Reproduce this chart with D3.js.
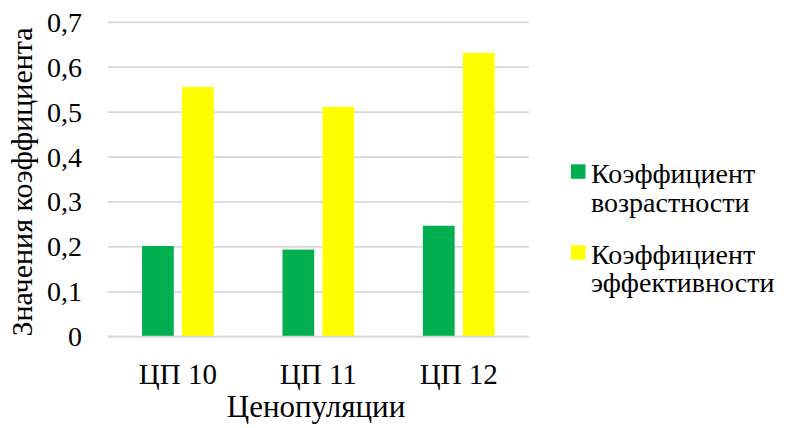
<!DOCTYPE html>
<html><head><meta charset="utf-8">
<script src="https://cdn.jsdelivr.net/npm/d3@7"></script>
</head><body style="margin:0">
<script>
const categories = ["ЦП 10", "ЦП 11", "ЦП 12"];
const seriesNames = ["Коэффициент возрастности", "Коэффициент эффективности"];
const legendLines = [["Коэффициент", "возрастности"], ["Коэффициент", "эффективности"]];
const ageValues = [0.202, 0.194, 0.247];
const effValues = [0.556, 0.512, 0.632];
const colors = ["#00B050", "#FFFF00"];
const yTicks = [0, 0.1, 0.2, 0.3, 0.4, 0.5, 0.6, 0.7];
const yTickLabels = ["0", "0,1", "0,2", "0,3", "0,4", "0,5", "0,6", "0,7"];
const xTitle = "Ценопуляции";
const yTitle = "Значения коэффициента";

const FONT = "'Times New Roman', 'Liberation Serif', Tinos, 'Noto Serif', serif";
const W = 788, H = 428;
const svg = d3.select("body").append("svg").attr("width", W).attr("height", H)
  .style("font-family", FONT);

const x0 = d3.scaleBand().domain(categories).range([107.7, 529]).padding(0);
const innerBW = 31.7, innerGap = 8.3;
const x1 = d3.scaleBand().domain(seriesNames).range([0, 2*innerBW+innerGap]).paddingInner(innerGap/(innerBW+innerGap)).paddingOuter(0);
const y = d3.scaleLinear().domain([0, 0.7]).range([336.7, 22.3]);

svg.append("g").selectAll("line").data(yTicks).join("line")
  .attr("x1", 107.7).attr("x2", 529)
  .attr("y1", d => y(d)).attr("y2", d => y(d))
  .attr("stroke", "#d9d9d9").attr("stroke-width", 1.8);

const data = categories.map((c, i) => ({cat: c, vals: [ageValues[i], effValues[i]]}));
const groupW = 2*innerBW + innerGap;
const g = svg.append("g").selectAll("g").data(data).join("g")
  .attr("transform", d => `translate(${x0(d.cat) + (x0.bandwidth()-groupW)/2},0)`);
g.selectAll("rect").data(d => d.vals.map((v, k) => ({k, v}))).join("rect")
  .attr("x", d => x1(seriesNames[d.k])).attr("width", x1.bandwidth())
  .attr("y", d => y(d.v)).attr("height", d => y(0) - y(d.v))
  .attr("fill", d => colors[d.k]);

svg.append("line").attr("x1", 107.7).attr("x2", 529).attr("y1", y(0)).attr("y2", y(0))
  .attr("stroke", "#d9d9d9").attr("stroke-width", 1.8);

const texts = [];
yTicks.forEach((t, i) => texts.push({s: yTickLabels[i], x: 82, y: y(t) + 9.5, a: "end", f: 28}));
categories.forEach(c => texts.push({s: c, x: x0(c) + x0.bandwidth()/2, y: 384, a: "middle", f: 29}));
texts.push({s: xTitle, x: 316, y: 417, a: "middle", f: 31});
legendLines.forEach((lines, i) => lines.forEach((s, j) =>
  texts.push({s, x: 591, y: [183.3, 264][i] + j * 28.4, a: "start", f: 28})));

svg.selectAll("text.t").data(texts).join("text").attr("class", "t")
  .attr("x", d => d.x).attr("y", d => d.y).attr("text-anchor", d => d.a)
  .style("font-family", FONT).style("font-size", d => d.f + "px").text(d => d.s);

svg.append("text").attr("transform", "translate(32,182) rotate(-90)")
  .attr("text-anchor", "middle").style("font-family", FONT).style("font-size", "30px").text(yTitle);

svg.append("g").selectAll("rect").data(colors).join("rect")
  .attr("x", 571).attr("y", (d, i) => [164.3, 245.3][i])
  .attr("width", 14.5).attr("height", 14.5).attr("fill", d => d);
</script>
</body></html>
